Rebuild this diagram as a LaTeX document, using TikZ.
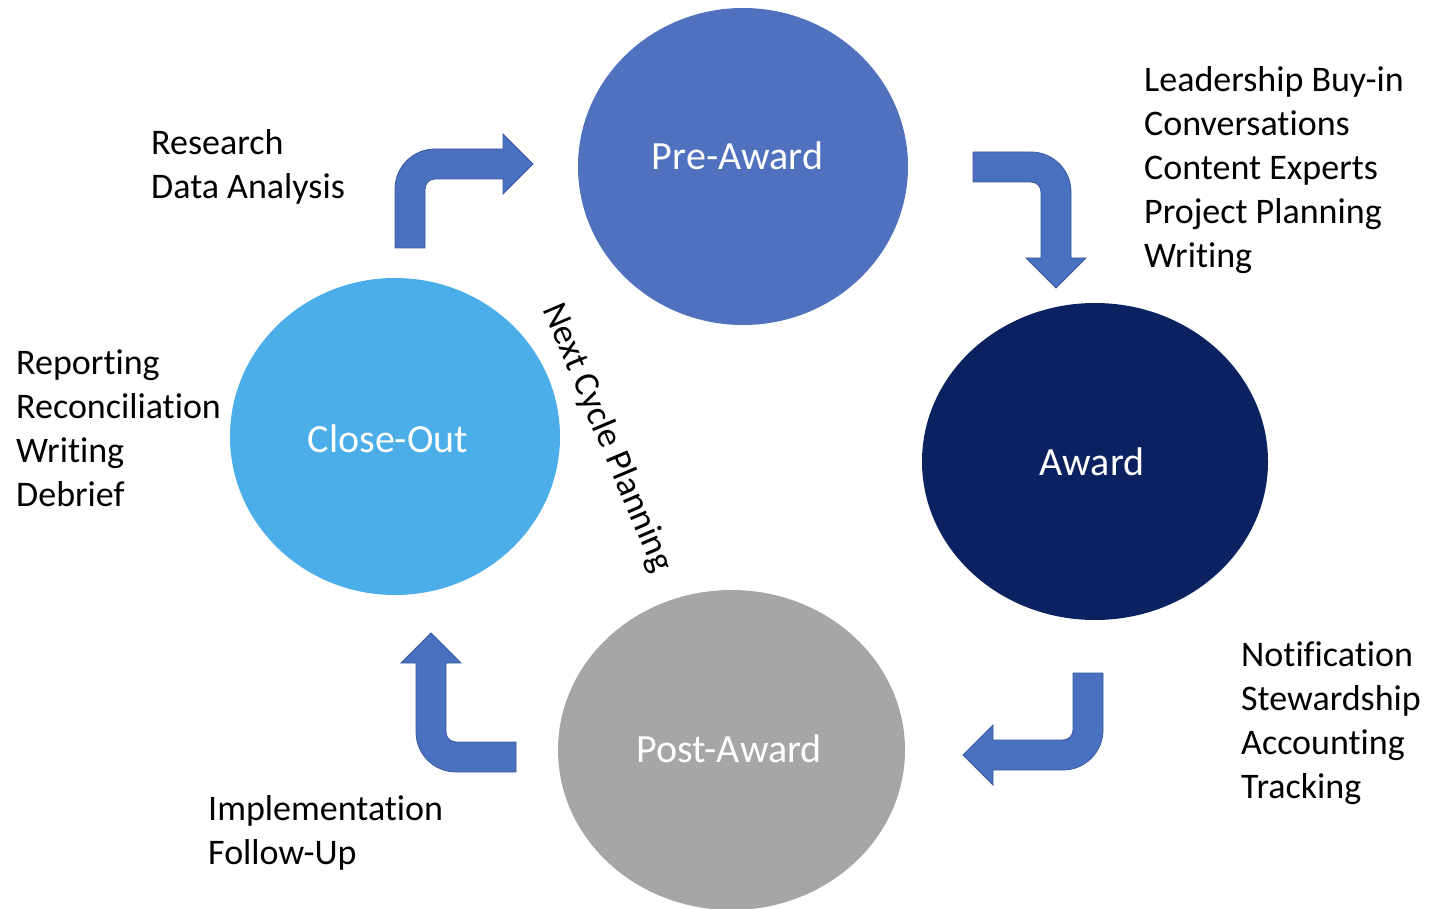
\documentclass[tikz,border=0pt]{standalone}
\usepackage{fontspec}
\setmainfont{Carlito}[Ligatures=NoCommon]
\usetikzlibrary{shapes.geometric}
\definecolor{preblue}{HTML}{4F71BE}
\definecolor{awardnavy}{HTML}{0B2160}
\definecolor{closesky}{HTML}{4BAEE8}
\definecolor{postgrey}{HTML}{A6A6A6}
\definecolor{arrowblue}{HTML}{4A70C0}
\definecolor{arrowedge}{HTML}{3A5A9E}

% Bent block arrow: stem rises from (0,0), turns right at height #1, tip at x=#2
\tikzset{pics/bentarrow/.style 2 args={code={
  \path[flow] (-15,0) -- (-15,{#1-25})
    .. controls (-15,{#1-2.9}) and (2.9,{#1+15}) .. (25,{#1+15})
    -- ({#2-30},{#1+15}) -- ({#2-30},{#1+30}) -- (#2,#1)
    -- ({#2-30},{#1-30}) -- ({#2-30},{#1-15}) -- (25,{#1-15})
    .. controls (19.5,{#1-15}) and (15,{#1-19.5}) .. (15,{#1-25})
    -- (15,0) -- cycle;
}}}

\begin{document}
\begin{tikzpicture}[x=1pt,y=1pt,
  phase/.style={ellipse, inner sep=0pt, draw=none},
  phaselabel/.style={text=white, font=\fontsize{40}{48}\selectfont, inner sep=0pt, anchor=base},
  notes/.style={align=left, font=\fontsize{36}{44}\selectfont, inner sep=0pt, anchor=base west},
  flow/.style={fill=arrowblue, draw=arrowedge, line width=0.8pt, line join=miter}
]
\useasboundingbox (0,0) rectangle (1429,-909);

% Phase circles
\node[phase, fill=preblue,   minimum width=330pt, minimum height=317pt] (pre)   at (743,-166.5) {};
\node[phase, fill=awardnavy, minimum width=346pt, minimum height=317pt] (award) at (1095,-461.5) {};
\node[phase, fill=closesky,  minimum width=330pt, minimum height=317pt] (close) at (395,-436.5) {};
\node[phase, fill=postgrey,  minimum width=347pt, minimum height=320pt] (post)  at (731.5,-750) {};

% Phase names
\node[phaselabel] (prelabel)   at (737.5,-170) {Pre-Award};
\node[phaselabel] (awardlabel) at (1092,-475) {Award};
\node[phaselabel] (closelabel) at (388,-452) {Close-Out};
\node[phaselabel] (postlabel)  at (729,-762) {Post-Award};

% Cycle arrows
\pic at (410,-248) {bentarrow={84}{123}};
\pic[rotate=-90] at (973,-167) {bentarrow={83}{121}};
\pic[rotate=180] at (1088,-673) {bentarrow={82}{125}};
\pic[rotate=90] at (516,-757) {bentarrow={85}{124}};

% Activities of each phase (anchored at the baseline of the last line)
\node[notes] (closeoutnotes) at (151,-199) {Research\\Data Analysis};
\node[notes] (prenotes) at (1144,-268) {Leadership Buy-in\\Conversations\\Content Experts\\Project Planning\\Writing};
\node[notes] (reportnotes) at (16,-506) {Reporting\\Reconciliation\\Writing\\Debrief};
\node[notes] (awardnotes) at (1241,-798) {Notification\\Stewardship\\Accounting\\Tracking};
\node[notes] (postnotes) at (208,-864) {Implementation\\Follow-Up};

\node[font=\fontsize{36}{39}\selectfont, rotate=-67, inner sep=0pt] (nextcycle) at (607,-438) {Next Cycle Planning};
\end{tikzpicture}
\end{document}
